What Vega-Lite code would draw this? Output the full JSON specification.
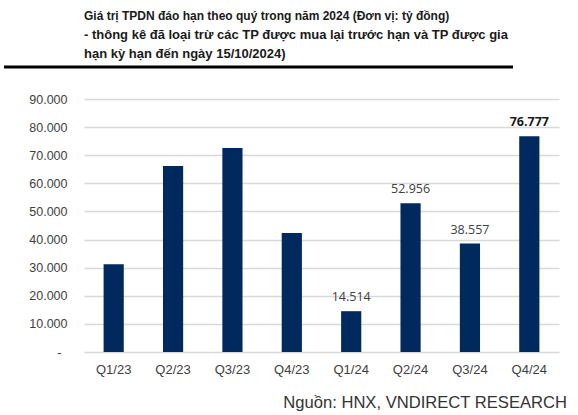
{
  "$schema": "https://vega.github.io/schema/vega-lite/v6.json",
  "background": "white",
  "padding": {"left": 2, "top": 10, "right": 0, "bottom": 0},
  "vconcat": [
    {
      "width": 429,
      "height": 1,
      "title": {
        "text": "\u00a0\u00a0\u00a0Giá trị TPDN đáo hạn theo quý trong năm 2024 (Đơn vị: tỷ đồng)",
        "subtitle": ["- thông kê đã loại trừ các TP được mua lại trước hạn và TP được gia", "hạn kỳ hạn đến ngày 15/10/2024)"],
        "anchor": "start",
        "frame": "group",
        "font": "Liberation Sans",
        "fontSize": 12,
        "fontWeight": "bold",
        "color": "#1a1a1a",
        "subtitleFont": "Liberation Sans",
        "subtitleFontSize": 13,
        "subtitleFontWeight": "bold",
        "subtitleColor": "#1a1a1a",
        "subtitleLineHeight": 18.5,
        "subtitlePadding": 6,
        "offset": 4
      },
      "data": {"values": [{"start": -0.1865, "end": 1, "line": 0}]},
      "mark": {"type": "rule", "color": "black", "strokeWidth": 3},
      "encoding": {
        "x": {"field": "start", "type": "quantitative", "axis": null, "scale": {"domain": [0, 1]}},
        "x2": {"field": "end"},
        "y": {"field": "line", "type": "quantitative", "axis": null, "scale": {"domain": [0, 1]}}
      }
    },
    {
      "width": 475,
      "height": 253,
      "title": {
        "text": "Nguồn: HNX, VNDIRECT RESEARCH",
        "orient": "bottom",
        "anchor": "end",
        "frame": "group",
        "font": "Liberation Sans",
        "fontSize": 16.6,
        "fontWeight": "normal",
        "color": "#333333",
        "offset": 19,
        "dx": 8
      },
      "data": {
        "values": [
          {"quarter": "Q1/23", "value": 31200, "label": ""},
          {"quarter": "Q2/23", "value": 66200, "label": ""},
          {"quarter": "Q3/23", "value": 72600, "label": ""},
          {"quarter": "Q4/23", "value": 42300, "label": ""},
          {"quarter": "Q1/24", "value": 14514, "label": "14.514"},
          {"quarter": "Q2/24", "value": 52956, "label": "52.956"},
          {"quarter": "Q3/24", "value": 38557, "label": "38.557"},
          {"quarter": "Q4/24", "value": 76777, "label": "76.777"}
        ]
      },
      "encoding": {
        "x": {
          "field": "quarter",
          "type": "nominal",
          "sort": null,
          "scale": {"paddingInner": 0.66, "paddingOuter": 0.33},
          "axis": {
            "title": null,
            "labelAngle": 0,
            "domain": false,
            "ticks": false,
            "labelFont": "Liberation Sans",
            "labelFontSize": 13,
            "labelColor": "#404040",
            "labelPadding": 11
          }
        },
        "y": {
          "field": "value",
          "type": "quantitative",
          "scale": {"domain": [0, 90000], "nice": false},
          "axis": {
            "title": "\u00a0",
            "titleX": -80,
            "titleAngle": 0,
            "values": [0, 10000, 20000, 30000, 40000, 50000, 60000, 70000, 80000, 90000],
            "labelExpr": "datum.value == 0 ? '-' : replace(format(datum.value, ','), ',', '.')",
            "domain": false,
            "ticks": false,
            "gridColor": "#d9d9d9",
            "gridWidth": 1.3,
            "labelFont": "Liberation Sans",
            "labelFontSize": 12.5,
            "labelColor": "#404040",
            "labelPadding": {"condition": {"test": "datum.value == 0", "value": 23}, "value": 17}
          }
        }
      },
      "layer": [
        {"mark": {"type": "bar", "color": "#002a5e"}},
        {
          "transform": [{"filter": "datum.label != '' && datum.quarter != 'Q4/24'"}],
          "mark": {"type": "text", "font": "Open Sans", "fontSize": 12.5, "color": "#404040", "baseline": "alphabetic", "dy": -10},
          "encoding": {"text": {"field": "label"}}
        },
        {
          "transform": [{"filter": "datum.quarter == 'Q4/24'"}],
          "mark": {"type": "text", "font": "Open Sans", "fontSize": 12.5, "fontWeight": "bold", "color": "#1a1a1a", "baseline": "alphabetic", "dy": -10},
          "encoding": {"text": {"field": "label"}}
        }
      ]
    }
  ],
  "config": {
    "view": {"stroke": null},
    "concat": {"spacing": 24}
  }
}
